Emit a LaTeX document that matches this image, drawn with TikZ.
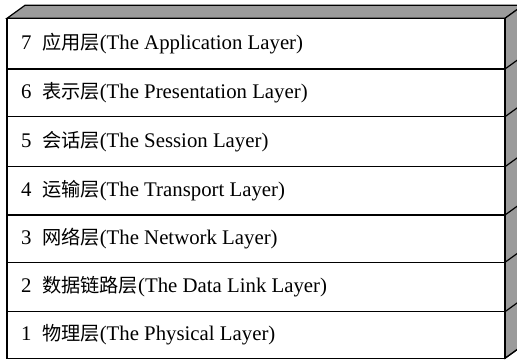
\documentclass[tikz,border=0pt]{standalone}
\usepackage{fontspec}
\setmainfont{Liberation Serif}
\newfontfamily\cjk[Scale=0.923]{Noto Sans CJK SC}
\definecolor{facegray}{RGB}{155,155,155}
\tikzset{
  edge/.style={draw=black, line width=1.2pt, line join=miter},
  face/.style={edge, fill=facegray},
  front/.style={edge, fill=white},
  lbl/.style={anchor=west, inner sep=0pt, font=\fontsize{20.8}{24}\selectfont}
}
\newcommand{\layertext}[3]{\makebox[21pt][l]{#1}{\cjk #2}#3}
\begin{document}
\begin{tikzpicture}[x=1pt,y=-1pt]
\useasboundingbox (0,0) rectangle (517,360);
\clip (0,0) rectangle (517,360);
\def\dx{18}
\def\dy{13}
% top face
\draw[face] (7,18.3) -- (7+\dx,18.3-\dy) -- (505+\dx,18.3-\dy) -- (505,18.3) -- cycle;
% side face
\draw[face] (505,18.3) -- (505+\dx,18.3-\dy) -- (505+\dx,358.3-\dy) -- (505,358.3) -- cycle;
% front rows
\foreach \ya/\yb in {18.3/69, 69/116.7, 116.7/166.7, 166.7/215, 215/262.3, 262.3/311.7, 311.7/358.3}{
  \draw[front] (7,\ya) rectangle (505,\yb);
  \draw[edge] (505,\yb) -- (505+\dx,\yb-\dy);
}
\node[lbl] (L7) at (21,43.6) {\layertext{7}{应用层}{(The Application Layer)}};
\node[lbl] (L6) at (21,92.8) {\layertext{6}{表示层}{(The Presentation Layer)}};
\node[lbl] (L5) at (21,141.7) {\layertext{5}{会话层}{(The Session Layer)}};
\node[lbl] (L4) at (21,190.8) {\layertext{4}{运输层}{(The Transport Layer)}};
\node[lbl] (L3) at (21,238.6) {\layertext{3}{网络层}{(The Network Layer)}};
\node[lbl] (L2) at (21,287) {\layertext{2}{数据链路层}{(The Data Link Layer)}};
\node[lbl] (L1) at (21,335) {\layertext{1}{物理层}{(The Physical Layer)}};
\end{tikzpicture}
\end{document}
